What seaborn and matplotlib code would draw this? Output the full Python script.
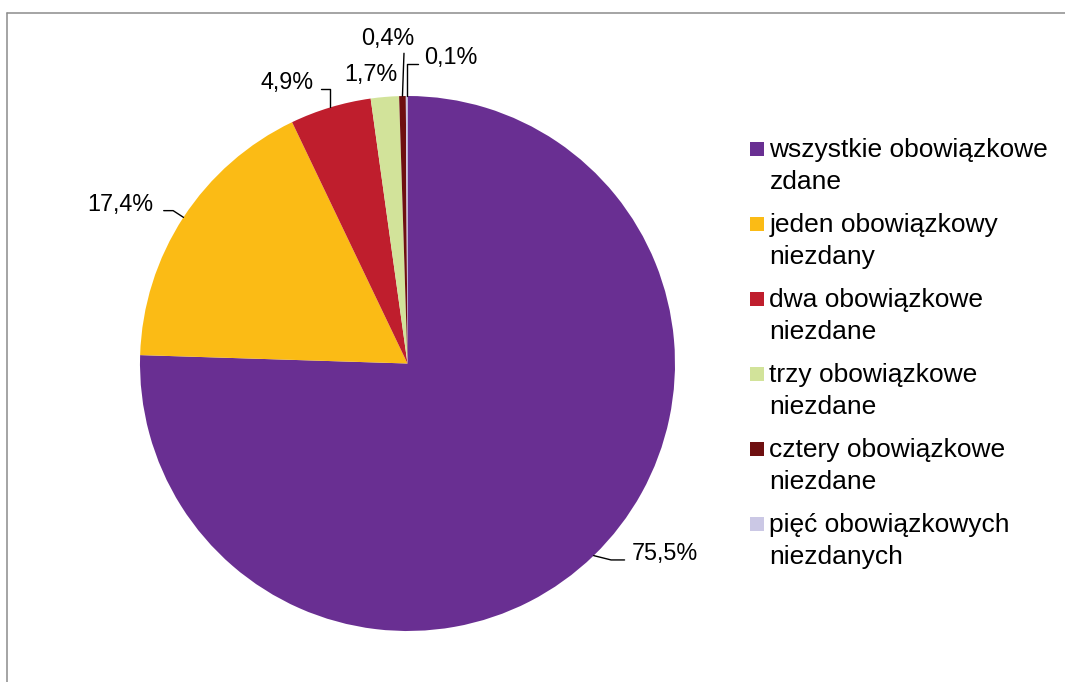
import matplotlib
matplotlib.use("Agg")
import matplotlib.pyplot as plt
import numpy as np
import seaborn as sns
from matplotlib.lines import Line2D
from matplotlib.patches import Rectangle

# data
categories = ["wszystkie obowiązkowe\nzdane",
              "jeden obowiązkowy\nniezdany",
              "dwa obowiązkowe\nniezdane",
              "trzy obowiązkowe\nniezdane",
              "cztery obowiązkowe\nniezdane",
              "pięć obowiązkowych\nniezdanych"]
shares = [75.5, 17.4, 4.9, 1.7, 0.4, 0.1]
share_labels = ["75,5%", "17,4%", "4,9%", "1,7%", "0,4%", "0,1%"]
colors = ["#692f92", "#fbbb15", "#bf1e2d", "#d2e39a", "#6e0f10", "#cbc8e5"]

sns.set_theme(style="white")
plt.rcParams["font.family"] = ["Liberation Sans", "DejaVu Sans"]

W, H = 1065, 682
cx, cy, R = 407.5, 363.5, 267.5   # pie centre and radius in pixels
fs_legend = 19
fs_label = 16.8

fig = plt.figure(figsize=(W / 100, H / 100), dpi=100)
ax = fig.add_axes([0, 0, 1, 1])

wedges, _ = ax.pie(shares, colors=sns.color_palette(colors), startangle=90,
                   counterclock=False, radius=1,
                   wedgeprops=dict(linewidth=0))
ax.set_xlim(-cx / R, (W - cx) / R)
ax.set_ylim(-(H - cy) / R, cy / R)
ax.set_aspect("auto")
ax.axis("off")


def px(x, y):
    # pixel (y down) -> data coords
    return (x - cx) / R, (cy - y) / R


# label layout: text anchor (px), ha, relpos, shrinkA, connection
label_layout = [
    ((632.0, 560.0), "left", (0, 0.22), 3.0, "angle,angleA=0,angleB=-14,rad=0"),
    ((153.5, 210.7), "right", (1, 0.22), 5.0, "angle,angleA=0,angleB=147,rad=0"),
    ((313.5, 89.3), "right", (1, 0.22), 3.0, "angle,angleA=0,angleB=90,rad=0"),
    ((344.0, 80.7), "left", None, 0, None),
    ((361.5, 45.0), "left", (0.80, 0), 0.0, "arc3,rad=0"),
    ((424.5, 64.0), "left", (0, 0.22), 2.0, "angle,angleA=0,angleB=90,rad=0"),
]

for w, lab, (pos, ha, rel, shr, conn) in zip(wedges, share_labels, label_layout):
    mid = np.deg2rad((w.theta1 + w.theta2) / 2)
    edge = (np.cos(mid), np.sin(mid))
    if conn is None:
        ax.text(*px(*pos), lab, ha=ha, va="baseline", fontsize=fs_label,
                color="black")
        continue
    ax.annotate(lab, xy=edge, xytext=px(*pos), ha=ha, va="baseline",
                fontsize=fs_label, color="black",
                arrowprops=dict(arrowstyle="-", color="black", lw=1.0,
                                connectionstyle=conn, relpos=rel,
                                shrinkA=shr, shrinkB=0))

# legend drawn by hand so that the square sits on the first line
for i, (name, col) in enumerate(zip(categories, colors)):
    yc = 148.7 + 75 * i
    x0, y0 = px(750, yc + 7)
    ax.add_patch(Rectangle((x0, y0), 14 / R, 14 / R, facecolor=col,
                           edgecolor="none", clip_on=False))
    for j, line in enumerate(name.split("\n")):
        ax.text(*px(769.5, 157.3 + 75 * i + 32 * j), line, ha="left",
                va="baseline", fontsize=fs_legend, color="black")

# outer frame (cut off at right and bottom)
fx0, fy0 = 7.2 / W, 1 - 13.0 / H
fig.add_artist(Line2D([fx0, fx0], [fy0, -0.1], color="#8c8c8c", lw=1.1,
                      transform=fig.transFigure))
fig.add_artist(Line2D([fx0, 1.1], [fy0, fy0], color="#8c8c8c", lw=1.1,
                      transform=fig.transFigure))

plt.savefig("out.png", dpi=100)
